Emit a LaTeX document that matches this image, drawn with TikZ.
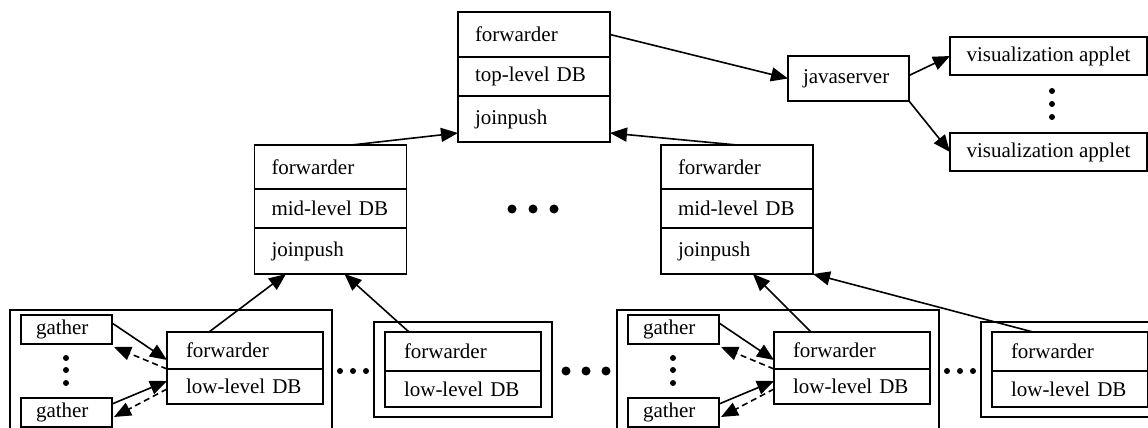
\documentclass[tikz,border=0pt]{standalone}
\usepackage{fontspec}
\setmainfont{Liberation Serif}
\usetikzlibrary{arrows.meta,positioning}

\tikzset{
  cell/.style={draw, anchor=north west, text width=59pt, align=left, inner xsep=8.5pt, inner ysep=0pt, outer sep=0pt},
  lowcell/.style={cell, inner xsep=9.5pt},
  gbox/.style={draw, anchor=north west, text width=30.5pt, align=left, inner xsep=7.5pt, inner ysep=0pt, minimum height=14.5pt, outer sep=0pt},
  sbox/.style={draw, inner sep=0pt, outer sep=0pt},
  back/.style={dash pattern=on 3pt off 2pt}
}

\begin{document}
\begin{tikzpicture}[x=0.5pt, y=-0.5pt, line width=.8pt, >={Triangle[length=8.5pt,width=7pt]}, font=\fontsize{10.5}{12}\selectfont]
\useasboundingbox (0,0) rectangle (1148,428);

\node[cell, minimum height=22.5pt] (topF) at (458,12) {forwarder};
\node[cell, minimum height=19.5pt, below=0pt of topF] (topDB) {top-level DB};
\node[cell, minimum height=23pt, below=0pt of topDB] (topJ) {joinpush};

\node[sbox, minimum height=22.5pt, text width=45.5pt, align=left, inner xsep=7.5pt] (java) at (848.5,78.5) {javaserver};
\node[sbox, minimum width=98.5pt, minimum height=19pt] (app1) at (1048.5,56) {visualization applet};
\node[sbox, minimum width=98.5pt, minimum height=19pt] (app2) at (1048.5,152) {visualization applet};
\fill (1052,91) circle (1.5pt) (1052,104) circle (1.5pt) (1052,117) circle (1.5pt);

\draw[->] (topF.east) -- (java.west);
\draw[->] ([yshift=1.5pt]java.east) -- (app1.west);
\draw[->] (java.south east) -- (app2.west);

\node[cell, minimum height=22pt] (midLF) at (254.5,145) {forwarder};
\node[cell, minimum height=19.5pt, below=0pt of midLF] (midLDB) {mid-level DB};
\node[cell, minimum height=23pt, below=0pt of midLDB] (midLJ) {joinpush};

\node[cell, minimum height=22pt] (midRF) at (661,145) {forwarder};
\node[cell, minimum height=19.5pt, below=0pt of midRF] (midRDB) {mid-level DB};
\node[cell, minimum height=23pt, below=0pt of midRDB] (midRJ) {joinpush};

\fill (512,209) circle (2.25pt) (533,209) circle (2.25pt) (554,209) circle (2.25pt);

\draw[->] ([xshift=10.5pt]midLF.north) -- ([yshift=4.5pt]topJ.south west);
\draw[->] (midRF.north) -- ([yshift=4.5pt]topJ.south east);

\begin {scope}
  \draw (10,310) rectangle (332,440);
  \node[gbox] (g1) at (21,315) {gather};
  \node[gbox] (g2) at (21,398) {gather};
  \node[lowcell, minimum height=18.5pt] (in1F) at (167,332) {forwarder};
  \node[lowcell, minimum height=17.5pt, below=0pt of in1F] (in1DB) {low-level DB};
  \fill (66,358) circle (1.5pt) (66,370) circle (1.5pt) (66,383) circle (1.5pt);
  \draw[->] ([yshift=-4pt]g1.north east) -- ([yshift=4.5pt]in1F.south west);
  \draw[->, back] (in1F.south west) -- ([xshift=1pt,yshift=-1.5pt]g1.south east);
  \draw[->] ([yshift=-3pt]g2.north east) -- ([yshift=-6pt]in1DB.north west);
  \draw[->, back] ([yshift=-10pt]in1DB.north west) -- ([xshift=1pt,yshift=-9.5pt]g2.north east);
  \fill (340,371) circle (1.5pt) (353,371) circle (1.5pt) (366,371) circle (1.5pt);
  \draw (374,322) rectangle (552,417);
  \node[lowcell, minimum height=19.5pt] (in2F) at (385,332) {forwarder};
  \node[lowcell, minimum height=18pt, below=0pt of in2F] (in2DB) {low-level DB};
\end {scope}

\fill (566,371) circle (2.25pt) (586,371) circle (2.25pt) (606,371) circle (2.25pt);

\begin {scope}[xshift=303.5pt]
  \draw (10,310) rectangle (332,440);
  \node[gbox] (g3) at (21,315) {gather};
  \node[gbox] (g4) at (21,398) {gather};
  \node[lowcell, minimum height=18.5pt] (in3F) at (167,332) {forwarder};
  \node[lowcell, minimum height=17.5pt, below=0pt of in3F] (in3DB) {low-level DB};
  \fill (66,358) circle (1.5pt) (66,370) circle (1.5pt) (66,383) circle (1.5pt);
  \draw[->] ([yshift=-4pt]g3.north east) -- ([yshift=4.5pt]in3F.south west);
  \draw[->, back] (in3F.south west) -- ([xshift=1pt,yshift=-1.5pt]g3.south east);
  \draw[->] ([yshift=-3pt]g4.north east) -- ([yshift=-6pt]in3DB.north west);
  \draw[->, back] ([yshift=-10pt]in3DB.north west) -- ([xshift=1pt,yshift=-9.5pt]g4.north east);
  \fill (340,371) circle (1.5pt) (353,371) circle (1.5pt) (366,371) circle (1.5pt);
  \draw (374,322) rectangle (552,417);
  \node[lowcell, minimum height=19.5pt] (in4F) at (385,332) {forwarder};
  \node[lowcell, minimum height=18pt, below=0pt of in4F] (in4DB) {low-level DB};
\end {scope}

\draw[->] ([xshift=21pt]in1F.north west) -- ([xshift=15.75pt]midLJ.south west);
\draw[->] ([xshift=12pt]in2F.north west) -- ([xshift=45pt]midLJ.south west);
\draw[->] ([xshift=18.5pt]in3F.north west) -- ([xshift=46pt]midRJ.south west);
\draw[->] ([xshift=20.5pt]in4F.north west) -- (midRJ.south east);
\end{tikzpicture}
\end{document}
